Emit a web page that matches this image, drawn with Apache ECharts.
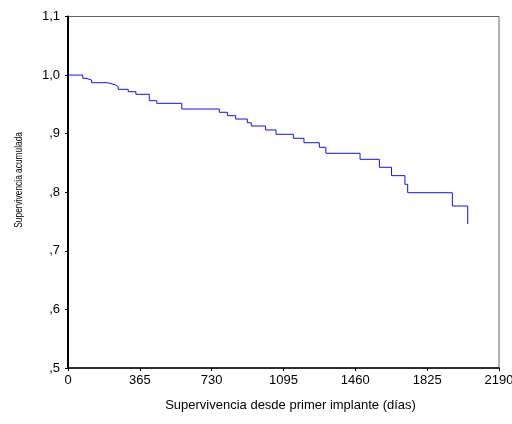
<!DOCTYPE html>
<html>
<head>
<meta charset="utf-8">
<script src="https://cdn.jsdelivr.net/npm/echarts@6/dist/echarts.min.js"></script>
<style>html,body{margin:0;padding:0;background:#fff}#c{width:512px;height:424px}</style>
</head>
<body>
<div id="c"></div>
<script>
const days = [0, 75, 91, 120, 200, 239, 255, 306, 345, 413, 451, 578, 769, 810, 852, 911, 931, 1004, 1057, 1145, 1199, 1277, 1310, 1484, 1582, 1644, 1712, 1726, 1953, 2031];
const survival = [1.0, 0.9945, 0.9916, 0.987, 0.9836, 0.9802, 0.9757, 0.9716, 0.9672, 0.9563, 0.9518, 0.9421, 0.9365, 0.9307, 0.925, 0.9187, 0.9131, 0.9063, 0.8989, 0.8921, 0.8846, 0.8767, 0.8665, 0.8562, 0.8426, 0.8283, 0.8136, 0.7992, 0.7765, 0.7458];
const xTicks = [0, 365, 730, 1095, 1460, 1825, 2190];
const xTitle = 'Supervivencia desde primer implante (días)';
const yTitle = 'Supervivencia acumulada';

const chart = echarts.init(document.getElementById('c'), null, {renderer: 'canvas'});
const font = 'Liberation Sans, Arial, sans-serif';
chart.setOption({
  animation: false,
  backgroundColor: '#fff',
  grid: {left: 68, right: 13, top: 16.5, bottom: 56, show: true, borderColor: '#666', borderWidth: 1, containLabel: false, outerBoundsMode: 'none'},
  xAxis: {
    type: 'value', min: xTicks[0], max: xTicks[xTicks.length - 1], interval: 365,
    axisLine: {show: true, onZero: false, lineStyle: {color: '#000', width: 1.5}},
    axisTick: {show: true, length: 3, lineStyle: {color: '#000'}},
    splitLine: {show: false},
    axisLabel: {color: '#000', fontSize: 13, fontFamily: font, margin: 6, showMaxLabel: true, formatter: v => String(v)},
    name: xTitle, nameLocation: 'middle', nameGap: 31,
    nameTextStyle: {color: '#000', fontSize: 13, fontFamily: font, padding: [0, 0, 0, 14]}
  },
  yAxis: {
    type: 'value', min: 0.5, max: 1.1, interval: 0.1,
    axisLine: {show: true, lineStyle: {color: '#000', width: 2}},
    axisTick: {show: true, length: 3, lineStyle: {color: '#000'}},
    splitLine: {show: false},
    axisLabel: {
      color: '#000', fontSize: 13, fontFamily: font, margin: 8,
      formatter: v => { let s = v.toFixed(1).replace('.', ','); return s.startsWith('0') ? s.slice(1) : s; }
    }
  },
  graphic: [{
    type: 'text', left: 13, top: 132, rotation: Math.PI / 2, scaleX: 0.76,
    style: {text: yTitle, fill: '#000', font: '11px "Liberation Sans", Arial, sans-serif'}
  }],
  series: [{
    type: 'line', step: 'end', showSymbol: false,
    data: days.map((d, i) => [d, survival[i]]),
    lineStyle: {color: '#1010ff', width: 1}
  }]
});
</script>
</body>
</html>
